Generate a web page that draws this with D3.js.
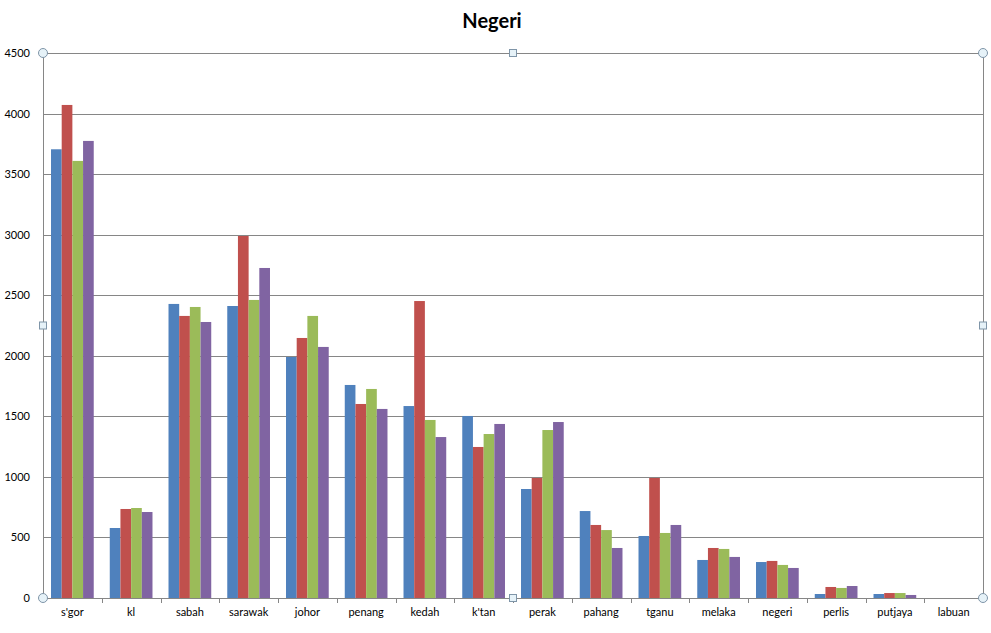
<!DOCTYPE html>
<html lang="en">
<head>
<meta charset="UTF-8">
<title>Negeri</title>
<script src="https://d3js.org/d3.v7.min.js"></script>
<style>
  body { margin: 0; background: #fff; }
  text { font-family: Lato, "Open Sans", sans-serif; fill: #000; }
</style>
</head>
<body>
<svg width="991" height="633"></svg>
<script>
    const categories = ["s'gor", "kl", "sabah", "sarawak", "johor", "penang", "kedah", "k'tan",
        "perak", "pahang", "tganu", "melaka", "negeri", "perlis", "putjaya", "labuan"];
    const series1 = [3705, 578, 2428, 2411, 1990, 1759, 1585, 1503, 900, 718, 512, 314, 297, 33, 33, 0];
    const series2 = [4071, 735, 2329, 2989, 2147, 1602, 2452, 1247, 991, 603, 991, 413, 306, 91, 41, 0];
    const series3 = [3609, 743, 2403, 2461, 2329, 1726, 1470, 1354, 1387, 561, 537, 405, 273, 83, 41, 0];
    const series4 = [3774, 710, 2279, 2725, 2073, 1561, 1329, 1437, 1453, 413, 603, 339, 248, 99, 25, 0];
    const yTicks = [0, 500, 1000, 1500, 2000, 2500, 3000, 3500, 4000, 4500];

    const seriesList = [series1, series2, series3, series4];
    const colors = ["#4F81BD", "#C0504D", "#9BBB59", "#8064A2"];

    const svg = d3.select("svg"),
        margin = {top: 53, right: 8, bottom: 35, left: 43},
        width = +svg.attr("width") - margin.left - margin.right,
        height = +svg.attr("height") - margin.top - margin.bottom,
        g = svg.append("g").attr("transform", `translate(${margin.left},${margin.top})`);

    const x = d3.scaleBand().domain(categories).range([0, width]).paddingInner(0).paddingOuter(0);
    // gap width 150% -> each bar is band / 5.5
    const barW = x.bandwidth() / 5.5;
    const x1 = d3.scaleBand().domain(d3.range(4)).range([barW * 0.75, barW * 4.75]).padding(0);
    const y = d3.scaleLinear().domain([0, 4500]).range([height, 0]);

    // grid
    g.append("g").selectAll("line").data(yTicks).join("line")
        .attr("x1", 0).attr("x2", width)
        .attr("y1", d => Math.round(y(d)) + 0.5).attr("y2", d => Math.round(y(d)) + 0.5)
        .attr("stroke", "#868686");

    // right border of plot area
    g.append("line").attr("x1", width + 0.5).attr("x2", width + 0.5).attr("y1", 0).attr("y2", height)
        .attr("stroke", "#868686");

    // bars
    seriesList.forEach((vals, si) => {
        g.append("g").selectAll("rect").data(vals).join("rect")
            .attr("x", (d, i) => x(categories[i]) + x1(si))
            .attr("width", x1.bandwidth())
            .attr("y", d => y(d))
            .attr("height", d => height - y(d))
            .attr("fill", colors[si]);
    });

    // y axis
    const yAxis = g.append("g").call(d3.axisLeft(y).tickValues(yTicks).tickFormat(d3.format("d"))
        .tickSize(0).tickPadding(13));
    yAxis.select(".domain").attr("stroke", "#868686");
    yAxis.selectAll("text").attr("font-size", 11).attr("font-family", "Lato, sans-serif");

    // x axis
    const xAxis = g.append("g").attr("transform", `translate(0,${height})`)
        .call(d3.axisBottom(x).tickSize(0).tickPadding(10));
    xAxis.select(".domain").attr("stroke", "#868686");
    xAxis.selectAll("text").attr("font-size", 11).attr("font-family", "Lato, sans-serif");
    xAxis.append("g").selectAll("line").data(categories.slice(1)).join("line")
        .attr("x1", d => Math.round(x(d)) + 0.5).attr("x2", d => Math.round(x(d)) + 0.5)
        .attr("y1", 0).attr("y2", 5).attr("stroke", "#868686");

    // title
    svg.append("text")
        .attr("x", 492).attr("y", 28)
        .attr("text-anchor", "middle")
        .attr("font-size", 20).attr("font-weight", "bold")
        .text("Negeri");

    // selection handles on the plot area
    const circles = [[0, 0], [width, 0], [0, height], [width, height]];
    const squares = [[width / 2, 0], [0, height / 2], [width, height / 2], [width / 2, height]];
    g.append("g").selectAll("circle").data(circles).join("circle")
        .attr("cx", d => d[0]).attr("cy", d => d[1]).attr("r", 4.5)
        .attr("fill", "#E6F2F8").attr("stroke", "#7F95A8");
    g.append("g").selectAll("rect").data(squares).join("rect")
        .attr("x", d => d[0] - 3.5).attr("y", d => d[1] - 3.5)
        .attr("width", 7).attr("height", 7)
        .attr("fill", "#E6F2F8").attr("stroke", "#7F95A8");
</script>
</body>
</html>
